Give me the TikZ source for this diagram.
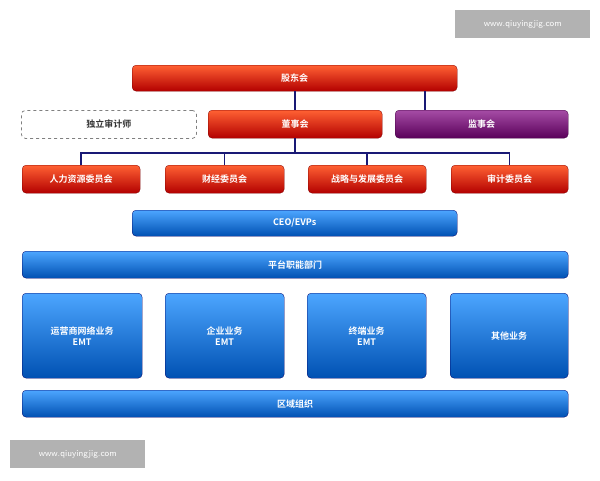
\documentclass[tikz,border=0pt]{standalone}
\usepackage{fontspec}
\newfontfamily\cjk{Noto Sans CJK SC}[BoldFont={Noto Sans CJK SC Bold}]
\begin{document}
\begin{tikzpicture}[x=1pt,y=-1pt,
 bx/.style={rounded corners=4pt,font=\cjk\bfseries\small,text=white,align=center,inner sep=0pt,anchor=north west},
 red/.style={bx,top color=red!55!orange!80!white,bottom color=red!70!black,draw=red!50!black,line width=0.3pt},
 pur/.style={bx,top color=violet!70,bottom color=violet!70!black,draw=violet!50!black,line width=0.3pt},
 blu/.style={bx,top color=cyan!50!blue!70,bottom color=blue!55!cyan!70!black,draw=blue!40!black,line width=0.3pt},
 ln/.style={draw=blue!40!black!90,line width=1.5pt},
 wm/.style={fill=gray!60,text=white,font=\sffamily\small,inner sep=0pt,anchor=north west}]
\useasboundingbox (0,0) rectangle (600,480);
\fill[white](0,0) rectangle (600,480);
\node[wm,minimum width=135,minimum height=28] (w1) at (455,10) {www.qiuyingjig.com};
\node[wm,minimum width=135,minimum height=28] (w2) at (10,440) {www.qiuyingjig.com};
\node[red,minimum width=325,minimum height=26] (gd) at (132,65) {股东会};
\node[bx,draw=gray,dashed,thick,text=black!80,minimum width=175,minimum height=28] (sj) at (21,110) {独立审计师};
\node[red,minimum width=174,minimum height=28] (ds) at (208,110) {董事会};
\node[pur,minimum width=173,minimum height=28] (js) at (395,110) {监事会};
\node[red,minimum width=118,minimum height=28] (c1) at (22,165) {人力资源委员会};
\node[red,minimum width=119,minimum height=28] (c2) at (165,165) {财经委员会};
\node[red,minimum width=118,minimum height=28] (c3) at (308,165) {战略与发展委员会};
\node[red,minimum width=117,minimum height=28] (c4) at (451,165) {审计委员会};
\node[blu,minimum width=325,minimum height=26] (ceo) at (132,210) {CEO/EVPs};
\node[blu,minimum width=546,minimum height=27] (pt) at (22,251) {平台职能部门};
\node[blu,minimum width=120,minimum height=85] (b1) at (22,293) {运营商网络业务\\EMT};
\node[blu,minimum width=119,minimum height=85] (b2) at (165,293) {企业业务\\EMT};
\node[blu,minimum width=119,minimum height=85] (b3) at (307,293) {终端业务\\EMT};
\node[blu,minimum width=118,minimum height=85] (b4) at (450,293) {其他业务};
\node[blu,minimum width=546,minimum height=27] (qy) at (22,390) {区域组织};
\coordinate (bus) at (295,153);
\draw[ln] (gd.south -| bus) -- (ds.north -| bus);
\draw[ln] (gd.south -| 425,0) -- (js.north -| 425,0);
\draw[ln] (ds.south -| bus) -- (bus);
\draw[ln] (c1.north) |- (bus) -| (c4.north);
\draw[ln] (c2.north) -- (c2.north |- bus);
\draw[ln] (c3.north) -- (c3.north |- bus);
\end{tikzpicture}
\end{document}
